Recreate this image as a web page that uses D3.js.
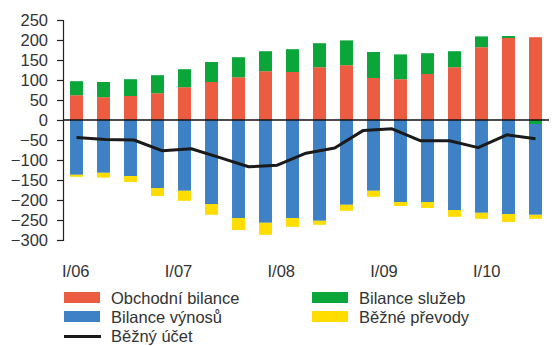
<!DOCTYPE html>
<html>
<head>
<meta charset="utf-8">
<script src="https://cdn.jsdelivr.net/npm/d3@7"></script>
<style>
  html, body { margin: 0; padding: 0; background: #fff; }
  svg { display: block; font-family: "Liberation Sans", Arial, sans-serif; }
</style>
</head>
<body>
<svg id="chart" width="552" height="346"></svg>
<script>
// Quarterly current-account components, I/06 – II/10
const quarters = ["I/06","II/06","III/06","IV/06","I/07","II/07","III/07","IV/07",
                  "I/08","II/08","III/08","IV/08","I/09","II/09","III/09","IV/09",
                  "I/10","II/10"];
const obchodni = [62, 57, 60, 67, 82, 95, 107, 122, 120, 132, 137, 105, 102, 115, 132, 182, 205, 207];
const sluzby   = [35, 38, 42, 45, 45, 50, 50, 50, 57, 60, 62, 65, 62, 52, 40, 27, 5, -10];
const vynosy   = [-137, -132, -140, -170, -177, -210, -245, -257, -245, -252, -212, -177, -205, -205, -225, -232, -235, -227];
const prevody  = [-5, -12, -15, -20, -25, -27, -30, -30, -22, -10, -15, -15, -10, -15, -17, -15, -20, -10];
const bezny    = [-44, -49, -50, -77, -72, -94, -117, -113, -83, -70, -26, -22, -52, -52, -69, -37, -47];

const yTicks = [250, 200, 150, 100, 50, 0, -50, -100, -150, -200, -250, -300];
const xLabels = ["I/06", "I/07", "I/08", "I/09", "I/10"];

const seriesKeys = ["obchodni", "sluzby", "vynosy", "prevody"];
const seriesNames = {
  obchodni: "Obchodní bilance",
  sluzby: "Bilance služeb",
  vynosy: "Bilance výnosů",
  prevody: "Běžné převody"
};
const colors = {
  obchodni: "#eb5c40",
  sluzby: "#0aa63a",
  vynosy: "#3e82c5",
  prevody: "#ffdd00"
};
const lineName = "Běžný účet";

const rows = quarters.map((q, i) => ({
  q,
  obchodni: obchodni[i],
  sluzby: sluzby[i],
  vynosy: vynosy[i],
  prevody: prevody[i]
}));

const svg = d3.select("#chart");
const plotLeft = 63, plotRight = 549, plotTop = 20, plotBottom = 240;
const fontSize = 16.5;
const textColor = "#333";

const x = d3.scaleBand().domain(quarters).range([plotLeft, plotRight])
  .paddingInner(0.52).paddingOuter(0.26);
const y = d3.scaleLinear().domain([-300, 250]).range([plotBottom, plotTop]);

// stacked bars (diverging around zero)
const stack = d3.stack().keys(seriesKeys).offset(d3.stackOffsetDiverging);
const stacked = stack(rows);

svg.append("g").selectAll("g")
  .data(stacked)
  .join("g")
  .attr("fill", d => colors[d.key])
  .selectAll("rect")
  .data(d => d)
  .join("rect")
  .attr("x", d => x(d.data.q))
  .attr("width", x.bandwidth())
  .attr("y", d => y(Math.max(d[0], d[1])))
  .attr("height", d => Math.abs(y(d[0]) - y(d[1])));

// zero line
svg.append("line")
  .attr("x1", plotLeft).attr("x2", plotRight)
  .attr("y1", y(0)).attr("y2", y(0))
  .attr("stroke", "#111").attr("stroke-width", 1.5);

// y axis
const yAxis = d3.axisLeft(y).tickValues(yTicks).tickSize(6).tickPadding(9)
  .tickFormat(d3.format("d"));
const ga = svg.append("g").attr("transform", `translate(${plotLeft},0)`).call(yAxis);
ga.select(".domain").attr("stroke", "#222").attr("stroke-width", 1.2);
ga.selectAll(".tick line").attr("stroke", "#222").attr("stroke-width", 1.2);
ga.selectAll(".tick text")
  .attr("font-size", fontSize)
  .attr("font-family", "'Liberation Sans', Arial, sans-serif")
  .attr("fill", textColor);

// current account line
const lx = d3.scalePoint()
  .domain(d3.range(bezny.length))
  .range([x(quarters[0]) + x.bandwidth() / 2, x(quarters[quarters.length - 1]) + x.bandwidth() / 2]);
svg.append("path")
  .datum(bezny)
  .attr("fill", "none")
  .attr("stroke", "#1a1a1a")
  .attr("stroke-width", 3)
  .attr("stroke-linejoin", "round")
  .attr("d", d3.line().x((d, i) => lx(i)).y(d => y(d)));

// year labels
const xl = d3.scalePoint().domain(xLabels).range([62, 473]);
svg.append("g").selectAll("text")
  .data(xLabels)
  .join("text")
  .attr("x", d => xl(d))
  .attr("y", 277)
  .attr("font-size", fontSize)
  .attr("fill", textColor)
  .text(d => d);

// legend
const legendItems = [
  { key: "obchodni", col: 0, row: 0 },
  { key: "sluzby", col: 1, row: 0 },
  { key: "vynosy", col: 0, row: 1 },
  { key: "prevody", col: 1, row: 1 }
];
const colX = [64, 312], rowY = [292, 311, 330];
const lg = svg.append("g");
legendItems.forEach(it => {
  lg.append("rect")
    .attr("x", colX[it.col]).attr("y", rowY[it.row])
    .attr("width", 36).attr("height", 11)
    .attr("fill", colors[it.key]);
  lg.append("text")
    .attr("x", colX[it.col] + 47).attr("y", rowY[it.row] + 12)
    .attr("font-size", fontSize).attr("fill", textColor)
    .text(seriesNames[it.key]);
});
lg.append("line")
  .attr("x1", colX[0]).attr("x2", colX[0] + 37)
  .attr("y1", rowY[2] + 6.5).attr("y2", rowY[2] + 6.5)
  .attr("stroke", "#1a1a1a").attr("stroke-width", 3);
lg.append("text")
  .attr("x", colX[0] + 47).attr("y", rowY[2] + 12)
  .attr("font-size", fontSize).attr("fill", textColor)
  .text(lineName);
</script>
</body>
</html>
